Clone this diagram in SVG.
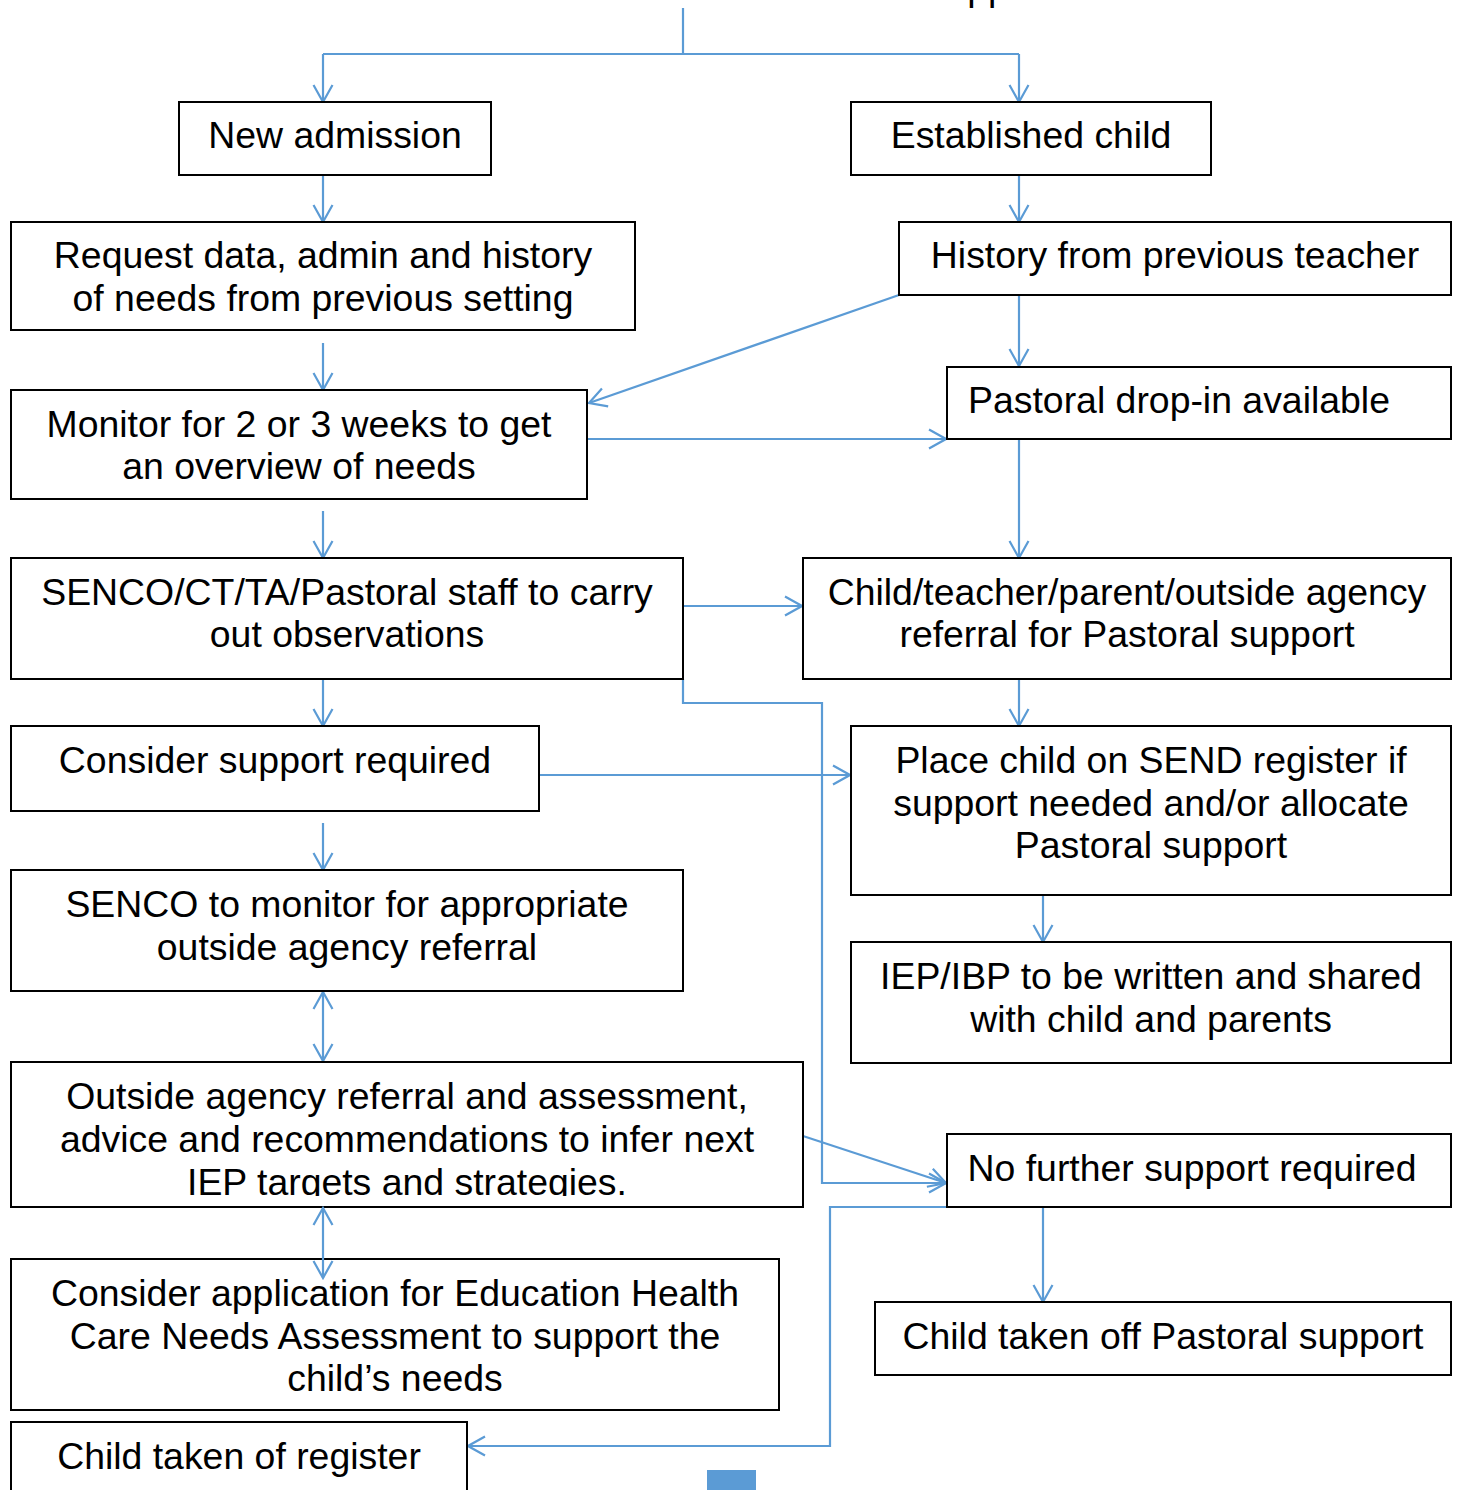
<svg xmlns="http://www.w3.org/2000/svg" width="1461" height="1490" viewBox="0 0 1461 1490">
<style>
.box{fill:#fff;stroke:#000;stroke-width:2}
.t{font-family:"Liberation Sans",Arial,sans-serif;font-size:37.4px;fill:#000;text-anchor:middle}
.c{fill:none;stroke:#5b9bd5;stroke-width:2.2}
.a{marker-end:url(#arr)}
.d{marker-start:url(#arr);marker-end:url(#arr)}
</style>
<defs>
<marker id="arr" viewBox="0 0 20 22" refX="18" refY="11" markerWidth="20" markerHeight="22" markerUnits="userSpaceOnUse" orient="auto-start-reverse">
<path d="M1,1.5 L18,11 L1,20.5" fill="none" stroke="#5b9bd5" stroke-width="2.2"/>
</marker>
<clipPath id="clipOA"><rect x="11" y="1062" width="792" height="134"/></clipPath>
</defs>
<rect width="1461" height="1490" fill="#fff"/>
<text class="t" x="988" y="0">pp</text>

<g id="connectors">
<path class="c" d="M683,8 V54"/>
<path class="c" d="M323,54 H1019"/>
<path class="c a" d="M323,54 V102"/>
<path class="c a" d="M1019,54 V102"/>
<path class="c a" d="M323,175 V222"/>
<path class="c a" d="M1019,175 V222"/>
<path class="c a" d="M323,343 V390"/>
<path class="c a" d="M1019,295 V366"/>
<path class="c a" d="M899,295 L589,403"/>
<path class="c a" d="M587,439 H946"/>
<path class="c a" d="M323,511 V558"/>
<path class="c a" d="M1019,439 V558"/>
<path class="c a" d="M683,606 H802"/>
<path class="c a" d="M323,679 V726"/>
<path class="c a" d="M1019,679 V726"/>
<path class="c a" d="M683,679 V703 H822 V1183 H946"/>
<path class="c a" d="M539,775 H850"/>
<path class="c a" d="M323,823 V870"/>
<path class="c a" d="M1043,895 V942"/>
<path class="c d" d="M323,992 V1061"/>
<path class="c a" d="M803,1136 L946,1183"/>
<path class="c a" d="M1043,1207 V1302"/>
<path class="c a" d="M947,1207 H830 V1446 H468"/>
</g>

<g id="n1"><rect class="box" x="179" y="102" width="312" height="73"/><text class="t" x="335" y="148">New admission</text></g>
<g id="n2"><rect class="box" x="851" y="102" width="360" height="73"/><text class="t" x="1031" y="148">Established child</text></g>
<g id="n3"><rect class="box" x="11" y="222" width="624" height="108"/><text class="t" x="323" y="268">Request data, admin and history</text><text class="t" x="323" y="311">of needs from previous setting</text></g>
<g id="n4"><rect class="box" x="899" y="222" width="552" height="73"/><text class="t" x="1175" y="268">History from previous teacher</text></g>
<g id="n5"><rect class="box" x="947" y="367" width="504" height="72"/><text class="t" x="1179" y="413">Pastoral drop-in available</text></g>
<g id="n6"><rect class="box" x="11" y="390" width="576" height="109"/><text class="t" x="299" y="437">Monitor for 2 or 3 weeks to get</text><text class="t" x="299" y="479">an overview of needs</text></g>
<g id="n7"><rect class="box" x="11" y="558" width="672" height="121"/><text class="t" x="347" y="605">SENCO/CT/TA/Pastoral staff to carry</text><text class="t" x="347" y="647">out observations</text></g>
<g id="n8"><rect class="box" x="803" y="558" width="648" height="121"/><text class="t" x="1127" y="605">Child/teacher/parent/outside agency</text><text class="t" x="1127" y="647">referral for Pastoral support</text></g>
<g id="n9"><rect class="box" x="11" y="726" width="528" height="85"/><text class="t" x="275" y="773">Consider support required</text></g>
<g id="n10"><rect class="box" x="851" y="726" width="600" height="169"/><text class="t" x="1151" y="773">Place child on SEND register if</text><text class="t" x="1151" y="816">support needed and/or allocate</text><text class="t" x="1151" y="858">Pastoral support</text></g>
<g id="n11"><rect class="box" x="11" y="870" width="672" height="121"/><text class="t" x="347" y="917">SENCO to monitor for appropriate</text><text class="t" x="347" y="960">outside agency referral</text></g>
<g id="n12"><rect class="box" x="851" y="942" width="600" height="121"/><text class="t" x="1151" y="989">IEP/IBP to be written and shared</text><text class="t" x="1151" y="1032">with child and parents</text></g>
<g id="n13"><rect class="box" x="11" y="1062" width="792" height="145"/><g clip-path="url(#clipOA)"><text class="t" x="407" y="1109">Outside agency referral and assessment,</text><text class="t" x="407" y="1152">advice and recommendations to infer next</text><text class="t" x="407" y="1195">IEP targets and strategies.</text></g></g>
<g id="n14"><rect class="box" x="947" y="1134" width="504" height="73"/><text class="t" x="1192" y="1181">No further support required</text></g>
<g id="n15"><rect class="box" x="11" y="1259" width="768" height="151"/><text class="t" x="395" y="1306">Consider application for Education Health</text><text class="t" x="395" y="1349">Care Needs Assessment to support the</text><text class="t" x="395" y="1391">child’s needs</text></g>
<g id="n16"><rect class="box" x="875" y="1302" width="576" height="73"/><text class="t" x="1163" y="1349">Child taken off Pastoral support</text></g>
<g id="n17"><rect class="box" x="11" y="1422" width="456" height="80"/><text class="t" x="239" y="1469">Child taken of register</text></g>
<rect x="707" y="1470" width="49" height="20" fill="#5b9bd5"/>
<path class="c d" d="M323,1208 V1278"/>
</svg>
